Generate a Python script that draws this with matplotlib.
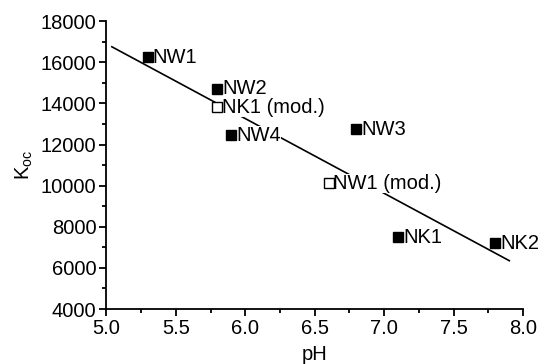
import numpy as np
import matplotlib.pyplot as plt
from matplotlib.ticker import MultipleLocator

plt.rcParams['font.family'] = ['Liberation Sans', 'DejaVu Sans']

# Messdaten (Boden-Proben)
names = ["NW1", "NW2", "NW4", "NW3", "NK1", "NK2"]
ph = [5.3, 5.8, 5.9, 6.8, 7.1, 7.8]
koc = [16250, 14700, 12460, 12750, 7500, 7210]

# modifizierte Proben
mod_names = ["NK1 (mod.)", "NW1 (mod.)"]
mod_ph = [5.8, 6.6]
mod_koc = [13820, 10125]

# Regressionsgerade über alle Punkte
all_ph = np.array(ph + mod_ph)
all_koc = np.array(koc + mod_koc)
slope, intercept = np.polyfit(all_ph, all_koc, 1)
fit_x = np.array([5.04, 7.9])
fit_y = slope * fit_x + intercept

fig = plt.figure(figsize=(5.45, 3.64), dpi=100)
ax = fig.add_axes([0.195, 0.151, 0.765, 0.791])

ax.plot(fit_x, fit_y, color='black', lw=1.2, zorder=1)

ax.plot(ph, koc, 's', color='black', ms=7, zorder=3)
ax.plot(mod_ph, mod_koc, 's', mfc='white', mec='black', mew=1, ms=6.5, zorder=3)

for n, x, y in zip(names + mod_names, ph + mod_ph, koc + mod_koc):
    ax.annotate(n, (x, y), xytext=(3.5, 0), textcoords='offset points',
                ha='left', va='center', fontsize=14.5, zorder=2,
                bbox=dict(facecolor='white', edgecolor='none', pad=0))

ax.set_xlim(5.0, 8.0)
ax.set_ylim(4000, 18000)
ax.xaxis.set_major_locator(MultipleLocator(0.5))
ax.xaxis.set_minor_locator(MultipleLocator(0.25))
ax.yaxis.set_major_locator(MultipleLocator(2000))
ax.yaxis.set_minor_locator(MultipleLocator(1000))
ax.xaxis.set_major_formatter(plt.FormatStrFormatter('%.1f'))

for s in ['top', 'right']:
    ax.spines[s].set_visible(False)
for s in ['left', 'bottom']:
    ax.spines[s].set_linewidth(1.3)

ax.tick_params(which='major', direction='out', length=5, width=1.3, labelsize=14.5, pad=2)
ax.tick_params(which='minor', direction='out', length=3, width=1.3)

ax.set_xlabel("pH", fontsize=14.5, labelpad=5)
ax.set_ylabel(r"K$_{\mathregular{oc}}$", fontsize=14.5, labelpad=4)

fig.savefig("out.png", dpi=100)
